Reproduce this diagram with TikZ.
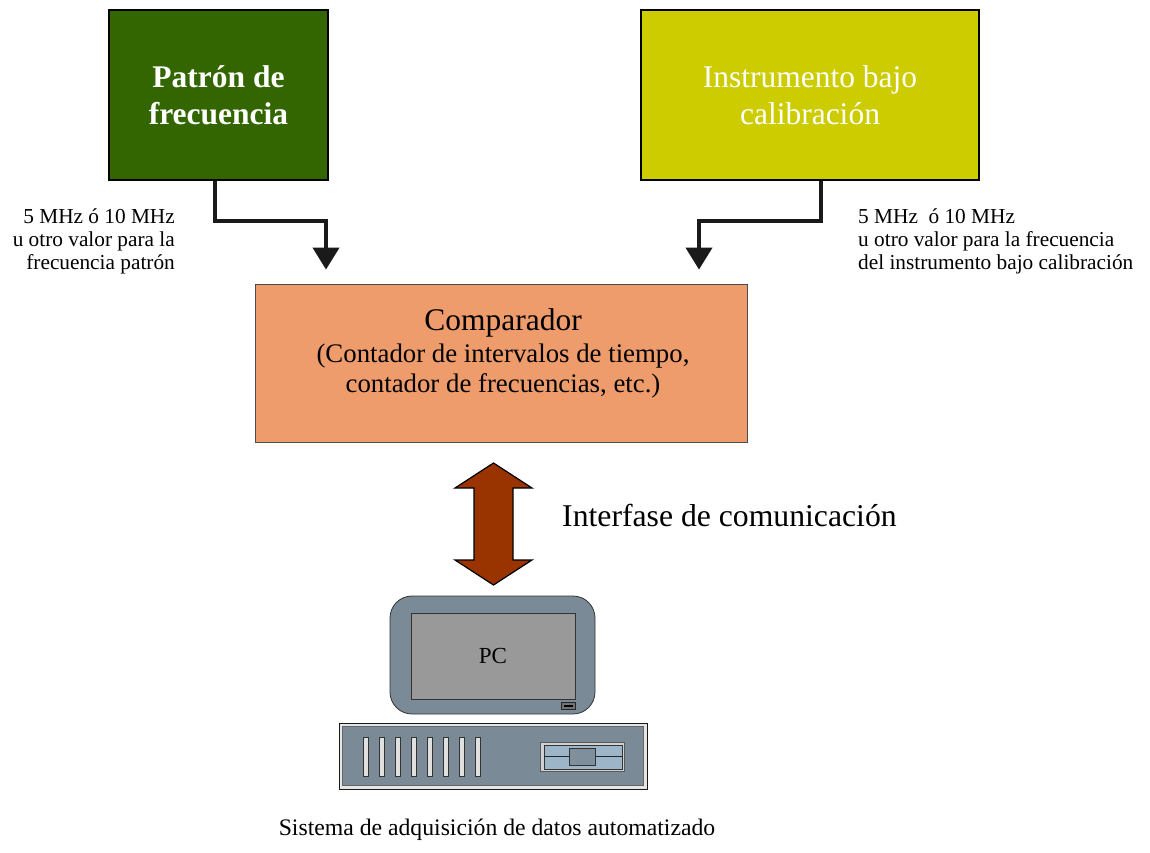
\documentclass[tikz,border=0pt]{standalone}
\usepackage{fontspec}
\setmainfont{Liberation Serif}
\usetikzlibrary{arrows.meta}
\definecolor{patgreen}{HTML}{336600}
\definecolor{insyellow}{HTML}{CCCC00}
\definecolor{comporange}{HTML}{EE9C6B}
\definecolor{brownarrow}{HTML}{993300}
\definecolor{slate}{HTML}{7A8A96}
\definecolor{screengray}{HTML}{999999}
\definecolor{drivelight}{HTML}{9DB5C8}
\definecolor{drivemid}{HTML}{7F8F9C}
\definecolor{connline}{HTML}{1A1A1A}
\tikzset{
  topbox/.style={draw=black, line width=1.8pt, text=white, align=center, inner sep=0pt,
    font=\fontsize{31.5}{37}\selectfont},
  compbox/.style={draw=black!70, line width=0.8pt, fill=comporange, inner sep=0pt},
  conn/.style={draw=connline, line width=4pt, -{Triangle[width=26pt,length=22pt]}},
  smalllabel/.style={font=\fontsize{21.3}{23}\selectfont, inner sep=0pt},
  part/.style={draw=black!80, line width=0.8pt, inner sep=0pt},
  vent/.style={draw=black!80, line width=0.7pt, fill=black!12, minimum width=5.5pt, minimum height=39pt, inner sep=0pt},
}
\begin{document}
\begin{tikzpicture}[x=1pt,y=-1pt]
\useasboundingbox (0,0) rectangle (1150,853);

% top boxes
\node[topbox, fill=patgreen, minimum width=219pt, minimum height=170pt] (pat) at (218.5,95)
  {\bfseries Patrón de\\\bfseries frecuencia};
\node[topbox, fill=insyellow, minimum width=338pt, minimum height=170pt] (ins) at (810,95)
  {Instrumento bajo\\calibración};

% comparator
\node[compbox, minimum width=492pt, minimum height=158pt] (comp) at (501,363) {};
\node[anchor=north, inner sep=0pt, align=center, font=\fontsize{26.8}{30}\selectfont] (comptxt) at (503,308.5)
  {{\fontsize{31.5}{32}\selectfont Comparador}\\[2pt](Contador de intervalos de tiempo,\\contador de frecuencias, etc.)};

% connectors
\coordinate (lbend) at (326,221);
\coordinate (rbend) at (699,221);
\draw[conn, shorten >=14pt] ([xshift=-3.5pt]pat.south) |- (lbend) -- (lbend |- comp.north);
\draw[conn, shorten >=14pt] ([xshift=11pt]ins.south) |- (rbend) -- (rbend |- comp.north);

% labels
\node[smalllabel, anchor=north east, align=right] (llab) at (175,208.5)
  {5 MHz ó 10 MHz\\u otro valor para la\\frecuencia patrón};
\node[smalllabel, anchor=north west, align=left] (rlab) at (858,208.5)
  {5 MHz\ \ ó 10 MHz\\u otro valor para la frecuencia\\del instrumento bajo calibración};

% double arrow
\draw[fill=brownarrow, draw=black, line width=1.2pt, line join=miter]
  (493.5,463) -- (532,488) -- (513,488) -- (513,560) -- (532,560) -- (493.5,585)
  -- (455,560) -- (474,560) -- (474,488) -- (455,488) -- cycle;
\node[anchor=base west, inner sep=0pt, font=\fontsize{31.7}{36}\selectfont] (iface) at (562,526)
  {Interfase de comunicación};

% monitor
\node[part, fill=slate, rounded corners=22pt, minimum width=205pt, minimum height=118pt] (mon) at (492.5,655) {};
\node[part, fill=screengray, minimum width=164pt, minimum height=86pt, font=\fontsize{23}{26}\selectfont] (scr) at (493,656) {PC};
\node[draw=black!85, fill=black!55, line width=0.7pt, minimum width=14pt, minimum height=6.5pt, inner sep=0pt] (btn) at (568,706) {};
\node[fill=black, minimum width=9pt, minimum height=2.5pt, inner sep=0pt] (btnin) at (568,706) {};

% tower
\node[draw=black!90, fill=black!10, line width=1pt, minimum width=308pt, minimum height=66pt, inner sep=0pt] (tower) at (493,756) {};
\node[part, fill=slate, draw=black!60, minimum width=301pt, minimum height=59pt] (towerin) at (493,756) {};
\foreach \i in {0,...,7} {
  \node[vent] (vent\i) at (366+16*\i,756.5) {};
}
\node[draw=black!65, fill=black!18, line width=0.8pt, minimum width=84pt, minimum height=29pt, inner sep=0pt] (drive) at (582,756.5) {};
\node[part, fill=drivelight, minimum width=78pt, minimum height=24pt] (drivein) at (583,757) {};
\draw[black!85, line width=0.9pt] (drivein.west |- 0,756) -- (drivein.east |- 0,756);
\node[part, fill=drivemid, minimum width=26pt, minimum height=17pt] (slot) at (582,756.5) {};

% caption
\node[anchor=base, inner sep=0pt, font=\fontsize{23.7}{28}\selectfont] (caption) at (497,835)
  {Sistema de adquisición de datos automatizado};
\end{tikzpicture}
\end{document}
